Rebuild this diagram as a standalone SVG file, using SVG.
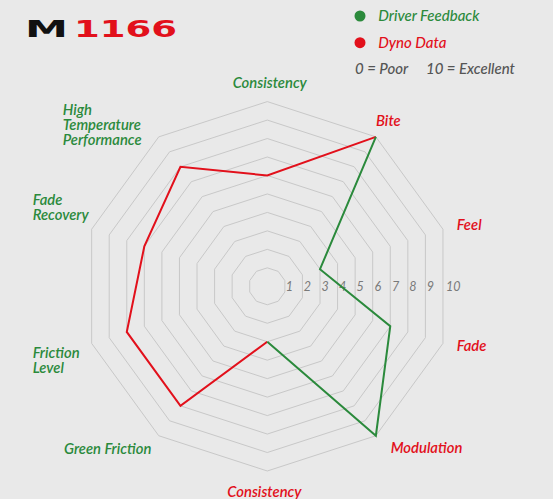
<svg xmlns="http://www.w3.org/2000/svg" xmlns:xlink="http://www.w3.org/1999/xlink" width="560" height="499" viewBox="0 0 560 499">
<style>
.bg{fill:#e9e9e9}
.ring{fill:none;stroke:#c8c8c8;stroke-width:1;vector-effect:non-scaling-stroke}
.lbl{font-family:Lato,"Open Sans","Liberation Sans",sans-serif;font-style:italic;font-weight:600;font-size:14.8px}
.g{fill:#2b8a3c}
.r{fill:#e2101b}
.leg{font-family:Lato,"Open Sans","Liberation Sans",sans-serif;font-style:italic;font-weight:500;font-size:15px}
.note{fill:#555555}
.scale{font-family:Lato,"Open Sans","Liberation Sans",sans-serif;font-style:italic;font-size:12.5px;fill:#7a7a7a;text-anchor:middle}
.logo{font-family:"DejaVu Sans",sans-serif;font-weight:bold;font-size:23.5px}
.line{fill:none;stroke-width:2;stroke-linejoin:miter}
</style>
<defs>
<polygon id="dec" class="ring" points="0,-1 0.5878,-0.809 0.9511,-0.309 0.9511,0.309 0.5878,0.809 0,1 -0.5878,0.809 -0.9511,0.309 -0.9511,-0.309 -0.5878,-0.809"/>
</defs>
<rect width="560" height="499" fill="#ffffff"/>
<rect class="bg" x="0" y="0" width="553" height="499"/>

<g id="logo">
<text class="logo" x="25" y="37.3" fill="#111111" textLength="43" lengthAdjust="spacingAndGlyphs">M</text>
<text class="logo" x="74" y="37.3" fill="#e2101b" textLength="103" lengthAdjust="spacingAndGlyphs">1166</text>
</g>

<g id="legend">
<circle cx="360" cy="16" r="5.5" fill="#2b8a3c"/>
<text class="leg g" x="378.3" y="20.5">Driver Feedback</text>
<circle cx="360" cy="42.7" r="5.5" fill="#e2101b"/>
<text class="leg r" x="378.3" y="48">Dyno Data</text>
<text class="leg note" x="355" y="74">0 = Poor</text>
<text class="leg note" x="426" y="74">10 = Excellent</text>
</g>

<g id="grid">
<use xlink:href="#dec" transform="translate(267.3 286.3) scale(18.47)"/>
<use xlink:href="#dec" transform="translate(267.3 286.3) scale(36.94)"/>
<use xlink:href="#dec" transform="translate(267.3 286.3) scale(55.41)"/>
<use xlink:href="#dec" transform="translate(267.3 286.3) scale(73.88)"/>
<use xlink:href="#dec" transform="translate(267.3 286.3) scale(92.35)"/>
<use xlink:href="#dec" transform="translate(267.3 286.3) scale(110.82)"/>
<use xlink:href="#dec" transform="translate(267.3 286.3) scale(129.29)"/>
<use xlink:href="#dec" transform="translate(267.3 286.3) scale(147.76)"/>
<use xlink:href="#dec" transform="translate(267.3 286.3) scale(166.23)"/>
<use xlink:href="#dec" transform="translate(267.3 286.3) scale(184.7)"/>
</g>

<g id="scale">
<text class="scale" x="289.4" y="290.5">1</text>
<text class="scale" x="307.3" y="290.5">2</text>
<text class="scale" x="325" y="290.5">3</text>
<text class="scale" x="342.7" y="290.5">4</text>
<text class="scale" x="360.2" y="290.5">5</text>
<text class="scale" x="377.8" y="290.5">6</text>
<text class="scale" x="395.6" y="290.5">7</text>
<text class="scale" x="412.8" y="290.5">8</text>
<text class="scale" x="430.3" y="290.5">9</text>
<text class="scale" x="453.3" y="290.5">10</text>
</g>

<g id="connectors">
<polyline class="line" stroke="#e2101b" points="267.3,341.71 180.45,405.84 126.77,331.96 144.33,246.35 180.45,166.76 267.3,175.48 375.87,136.88"/>
<polyline class="line" stroke="#2b8a3c" points="375.87,136.88 320.0,269.18 390.27,326.25 375.87,435.72 267.3,341.71"/>
</g>

<g id="axis-consistency-top"><text class="lbl g" x="269.7" y="88.3" text-anchor="middle">Consistency</text></g>
<g id="axis-bite"><text class="lbl r" x="376" y="126">Bite</text></g>
<g id="axis-feel"><text class="lbl r" x="456.7" y="230">Feel</text></g>
<g id="axis-fade"><text class="lbl r" x="456.7" y="350.7">Fade</text></g>
<g id="axis-modulation"><text class="lbl r" x="390.7" y="452.7">Modulation</text></g>
<g id="axis-consistency-bottom"><text class="lbl r" x="227.3" y="497">Consistency</text></g>
<g id="axis-green-friction"><text class="lbl g" x="64" y="454">Green Friction</text></g>
<g id="axis-friction-level"><text class="lbl g" x="32.7" y="358.3">Friction<tspan x="32.7" dy="15">Level</tspan></text></g>
<g id="axis-fade-recovery"><text class="lbl g" x="32.7" y="205">Fade<tspan x="32.7" dy="15">Recovery</tspan></text></g>
<g id="axis-htp"><text class="lbl g" x="62.7" y="115">High<tspan x="62.7" dy="15.3">Temperature</tspan><tspan x="62.7" dy="14.7">Performance</tspan></text></g>
</svg>
